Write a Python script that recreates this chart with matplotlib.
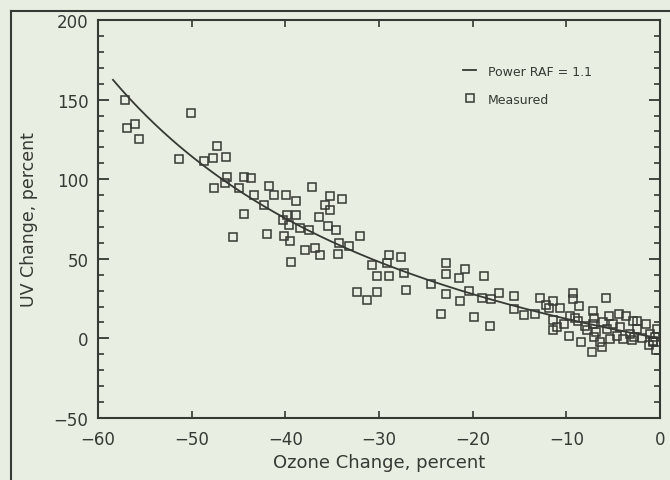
import numpy as np
import matplotlib
matplotlib.use("Agg")
import matplotlib.pyplot as plt
from matplotlib.lines import Line2D

# measured ozone change vs UV change (percent)
ozone_change = [
    -57.1, -56.9, -56.0, -55.6, -51.4, -50.1, -48.7, -47.3, -47.7, -46.3,
    -46.2, -47.6, -46.4, -44.4, -43.7, -45.0, -43.4, -42.3, -41.7, -41.2,
    -39.9, -38.9, -44.4, -39.8, -38.9, -40.2, -39.6, -42.0, -45.6, -40.1,
    -39.5, -39.4, -37.2, -35.2, -34.0, -35.8, -35.2, -38.4, -37.5, -36.4,
    -35.5, -34.6, -37.9, -36.8, -36.3, -34.4, -34.3, -33.2, -32.0, -30.8,
    -28.9, -27.7, -29.2, -30.2, -28.9, -27.3, -27.1, -32.3, -31.3, -30.2,
    -24.4, -23.4, -22.9, -22.8, -22.8, -21.5, -20.8, -21.4, -20.4, -19.0,
    -18.0, -17.2, -15.6, -15.6, -14.5, -13.3, -12.8, -19.9, -18.2, -18.8,
    -11.4, -11.9, -10.7, -11.4, -11.4, -9.25, -9.3, -8.7, -9.6, -9.1,
    -9.7, -8.4, -7.3, -5.8, -7.2, -7.0, -7.2, -6.8, -7.0, -6.1,
    -5.7, -6.2, -5.5, -4.4, -3.6, -4.3, -4.6, -3.9, -2.9, -2.5,
    -2.5, -2.8, -1.5, -1.1, -0.8, -0.4, -0.35, -0.7, -5.3, -6.4,
    -12.2, -8.0, -7.8, -3.2, -1.9, -1.2, -0.5, -3.0, -5.0, -8.8,
    -10.2, -11.0,
]
uv_change = [
    149.6, 132.0, 134.6, 125.0, 112.5, 141.9, 111.4, 121.0, 113.6, 114.0,
    101.7, 94.4, 97.5, 101.7, 100.6, 94.4, 90.2, 84.0, 96.0, 90.2,
    89.8, 86.0, 78.0, 77.7, 77.7, 74.6, 71.4, 65.8, 63.8, 64.2,
    61.4, 48.0, 94.8, 89.6, 87.5, 83.5, 80.8, 69.4, 68.3, 76.0,
    70.4, 68.3, 55.8, 56.9, 52.3, 53.1, 60.0, 57.9, 64.2, 46.4,
    52.3, 51.0, 47.5, 39.2, 39.2, 41.3, 30.4, 29.2, 23.9, 29.2,
    34.0, 15.2, 47.5, 40.2, 27.7, 38.1, 43.8, 23.6, 29.8, 25.6,
    25.0, 28.8, 26.7, 18.3, 14.8, 15.2, 25.6, 13.5, 7.9, 39.2,
    23.5, 19.0, 19.0, 11.4, 5.2, 28.8, 24.6, 20.4, 14.2, 13.1,
    1.7, -2.5, -8.8, 25.2, 17.0, 13.0, 9.0, 4.0, 1.0, 10.0,
    5.8, -5.2, 14.2, 15.2, 14.2, 6.9, 1.7, -0.4, 11.0, 11.0,
    5.8, 1.0, 8.8, 2.7, -1.5, -7.3, 5.8, -2.5, -0.4, -2.5,
    21.0, 8.0, 5.0, 3.0, 0.0, -4.0, 1.0, -1.0, 9.0, 11.0,
    9.0, 7.0,
]

raf = 1.1
fit_start = -58.4

x_ticks = [-60, -50, -40, -30, -20, -10, 0]
y_ticks = [-50, 0, 50, 100, 150, 200]

bg = "#e8eee2"
ink = "#363934"

plt.rcParams["font.family"] = ["DejaVu Sans"]

fig = plt.figure(figsize=(6.7, 4.81), dpi=100, facecolor=bg)
ax = fig.add_axes([0.1463, 0.1289, 0.8388, 0.8274], facecolor=bg)

# outer frame, open to the right and bottom
fig.add_artist(Line2D([0.0164, 0.0164], [-0.01, 0.975], color=ink, lw=1.5,
                      transform=fig.transFigure))
fig.add_artist(Line2D([0.0164, 1.01], [0.975, 0.975], color=ink, lw=1.5,
                      transform=fig.transFigure))

# power-law radiation amplification curve
xs = np.linspace(fit_start, 0, 200)
ys = 100 * ((1 + xs / 100) ** (-raf) - 1)
ax.plot(xs, ys, color=ink, lw=1.3, label=f"Power RAF = {raf}")

ax.plot(ozone_change, uv_change, linestyle="none", marker="s", ms=6.2,
        mfc="none", mec=ink, mew=1.1, label="Measured")

ax.set_xlim(-60, 0)
ax.set_ylim(-50, 200)
ax.set_xticks(x_ticks)
ax.set_yticks(y_ticks)
ax.set_yticks(np.arange(-50, 201, 10), minor=True)

for sp in ax.spines.values():
    sp.set_color(ink)
    sp.set_linewidth(1.5)

ax.tick_params(axis="both", which="both", direction="in", colors=ink,
               labelsize=12, top=True, right=True)
ax.tick_params(axis="y", which="major", length=8, width=1.3, pad=7)
ax.tick_params(axis="y", which="minor", length=4.5, width=1.2)
ax.tick_params(axis="x", which="major", length=5, width=1.2, pad=9)

ax.set_xlabel("Ozone Change, percent", fontsize=13, color=ink, labelpad=3)
ax.set_ylabel("UV Change, percent", fontsize=12.5, color=ink, labelpad=11)

leg = ax.legend(loc="upper left", bbox_to_anchor=(0.64, 0.9), frameon=False,
                fontsize=9, handlelength=1.1, handletextpad=0.9,
                labelspacing=1.2, borderaxespad=0)
for t in leg.get_texts():
    t.set_color(ink)

fig.savefig("out.png", dpi=100, facecolor=bg)
